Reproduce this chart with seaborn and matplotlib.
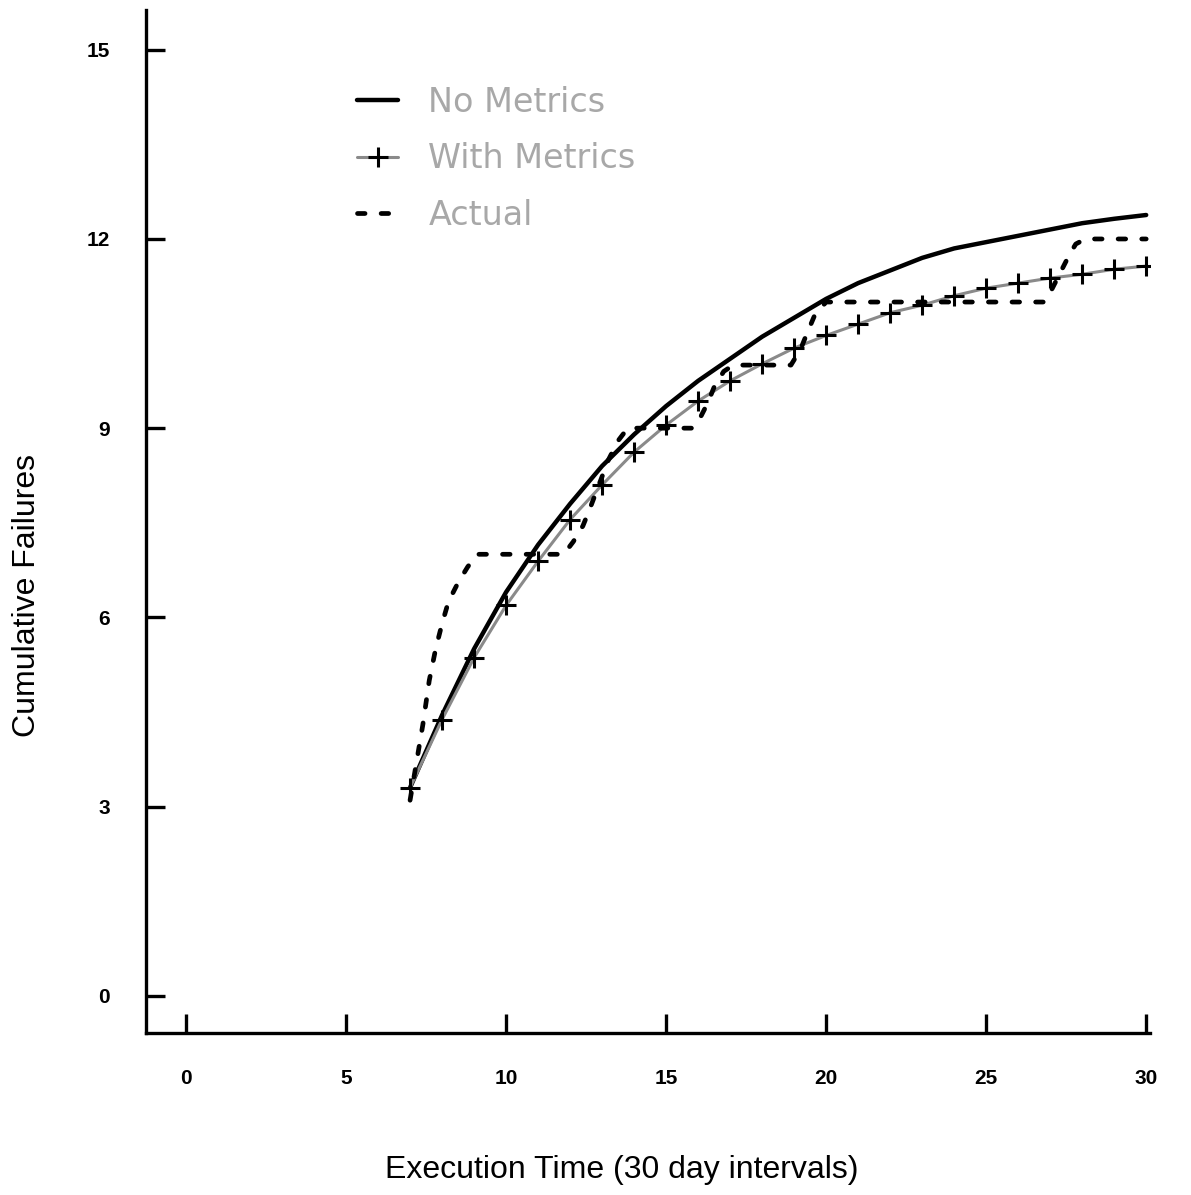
import pandas as pd
import numpy as np
import matplotlib.pyplot as plt
import seaborn as sns

sns.set_theme(style="white")
plt.rcParams["font.family"] = ["Liberation Sans", "DejaVu Sans"]

# model curves, one value per 30 day interval
t_model = list(range(7, 31))
no_metrics = [3.3, 4.45, 5.5, 6.4, 7.15, 7.8, 8.4, 8.9, 9.35, 9.75, 10.1, 10.45,
              10.75, 11.05, 11.3, 11.5, 11.7, 11.85, 11.95, 12.05, 12.15, 12.25,
              12.32, 12.38]
with_metrics = [3.3, 4.38, 5.36, 6.19, 6.89, 7.55, 8.1, 8.62, 9.05, 9.43, 9.75, 10.02,
                10.27, 10.47, 10.65, 10.83, 10.95, 11.1, 11.22, 11.3, 11.38, 11.44,
                11.52, 11.57]

# observed failures (drawn as a smoothed staircase)
t_actual = [7.0, 7.2, 7.4, 7.6, 7.8, 8.0, 8.2, 8.5, 8.8, 9.1, 11.8, 12.1, 12.4, 12.6,
            12.9, 13.2, 13.5, 13.8, 15.8, 16.0, 16.3, 16.5, 16.8, 17.1, 18.9, 19.2,
            19.4, 19.65, 20.0, 26.8, 27.0, 27.3, 27.6, 27.8, 28.1, 30.0]
actual = [3.1, 3.7, 4.3, 5.0, 5.5, 5.9, 6.25, 6.55, 6.8, 7.0, 7.0, 7.2, 7.45, 7.7,
          8.1, 8.5, 8.8, 9.0, 9.0, 9.1, 9.4, 9.65, 9.9, 10.0, 10.0, 10.25, 10.5,
          10.8, 11.0, 11.0, 11.15, 11.45, 11.75, 11.92, 12.0, 12.0]

x_ticks = [0, 5, 10, 15, 20, 25, 30]
y_ticks = [0, 3, 6, 9, 12, 15]

model = pd.DataFrame({"t": t_model, "no": no_metrics, "with": with_metrics})
obs = pd.DataFrame({"t": t_actual, "actual": actual})

fig = plt.figure(figsize=(11.91, 11.95), dpi=100)
ax = fig.add_axes([0.1226, 0.1356, 0.843, 0.856])

sns.lineplot(data=model, x="t", y="no", ax=ax, color="black", lw=3.2,
             label="No Metrics")
sns.lineplot(data=model, x="t", y="with", ax=ax, color="#8a8a8a", lw=2.2,
             marker="+", markersize=14, markeredgecolor="black",
             markeredgewidth=2.2, label="With Metrics")
sns.lineplot(data=obs, x="t", y="actual", ax=ax, color="black", lw=3.4,
             linestyle=(0, (1.6, 3.4)), dash_capstyle="round",
             label="Actual", sort=False)

ax.set_xlim(-1.25, 30.12)
ax.set_ylim(-0.59, 15.63)
ax.set_xticks(x_ticks)
ax.set_yticks(y_ticks)
ax.tick_params(bottom=True, left=True, direction="in", length=14, width=2.4,
               pad=26, labelsize=15, colors="black")
for lab in ax.get_xticklabels() + ax.get_yticklabels():
    lab.set_fontweight("bold")

for side in ["top", "right"]:
    ax.spines[side].set_visible(False)
for side in ["left", "bottom"]:
    ax.spines[side].set_linewidth(2.4)
    ax.spines[side].set_color("black")

ax.set_xlabel("Execution Time (30 day intervals)", fontsize=23, color="black")
ax.set_ylabel("Cumulative Failures", fontsize=23, color="black")
ax.xaxis.set_label_coords(0.474, -0.119)
ax.yaxis.set_label_coords(-0.104, 0.428)

leg = ax.legend(loc="upper left", bbox_to_anchor=(0.18, 0.955), frameon=False,
                handlelength=1.25, handletextpad=0.9, labelspacing=0.7,
                prop={"family": "DejaVu Sans", "size": 24})
for txt in leg.get_texts():
    txt.set_color("#a8a8a8")

fig.savefig("out.png", dpi=100)
